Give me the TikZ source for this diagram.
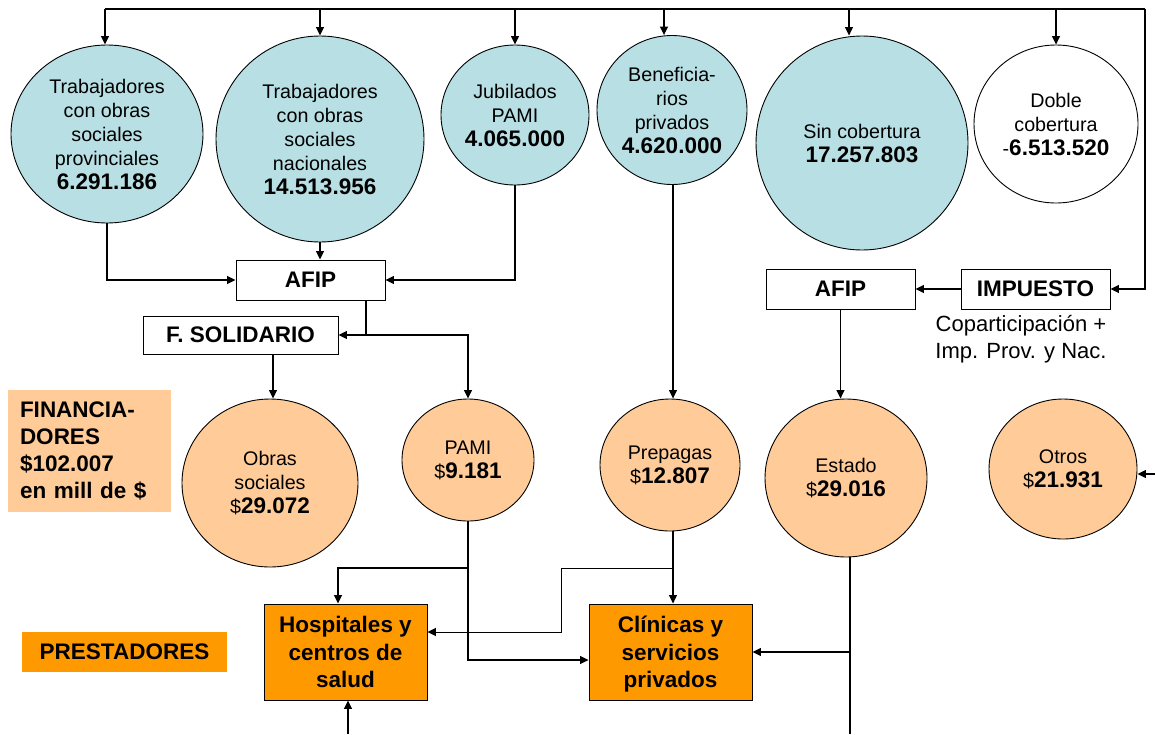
\documentclass[tikz,border=0pt]{standalone}
\usepackage{fontspec}
\setmainfont{Liberation Sans}
\usetikzlibrary{shapes.geometric,arrows.meta,calc}
\definecolor{cblue}{RGB}{184,224,228}
\definecolor{lorange}{RGB}{255,204,153}
\definecolor{dorange}{RGB}{255,153,0}
\newcommand\nf{\fontsize{19.7}{24}\selectfont}
\newcommand\bn{\fontsize{22.5}{25}\selectfont\bfseries}
\tikzset{
  bub/.style={ellipse,draw=black,line width=0.9pt,inner sep=0pt,align=center,font=\nf},
  bluebub/.style={bub,fill=cblue},
  orbub/.style={bub,fill=lorange},
  wbox/.style={rectangle,draw=black,line width=0.9pt,fill=white,inner sep=0pt,
     minimum width=149pt,minimum height=40pt,font=\bn},
  obox/.style={rectangle,draw=black,line width=0.9pt,fill=dorange,inner sep=0pt,
     minimum width=163pt,minimum height=96pt,align=center,
     font=\fontsize{22.5}{27.5}\selectfont\bfseries},
  arr/.style={line width=1.3pt,-{Triangle[length=8.5pt,width=8pt]}},
  ln/.style={line width=1.3pt},
}
\begin{document}
\begin{tikzpicture}[x=1pt,y=-1pt]
\useasboundingbox (0,0) rectangle (1155,734);
% top row
\node[bluebub,minimum width=192pt,minimum height=178pt] (c1) at (107,134)
  {Trabajadores\\con obras\\sociales\\provinciales\\{\bn 6.291.186}};
\node[bluebub,minimum width=208pt,minimum height=206pt] (c2) at (320,139)
  {Trabajadores\\con obras\\sociales\\nacionales\\{\bn 14.513.956}};
\node[bluebub,minimum width=148pt,minimum height=140pt] (c3) at (515,115)
  {Jubilados\\PAMI\\{\bn 4.065.000}};
\node[bluebub,minimum width=150pt,minimum height=149pt] (c4) at (672,110)
  {Beneficia-\\rios\\privados\\{\bn 4.620.000}};
\node[bluebub,minimum width=212pt,minimum height=214pt] (c5) at (862,143)
  {Sin cobertura\\{\bn 17.257.803}};
\node[bub,fill=white,minimum width=164pt,minimum height=158pt] (c6) at (1056,124)
  {Doble\\cobertura\\-{\bn 6.513.520}};
% boxes
\node[wbox] (afip1) at (310.5,280) {AFIP};
\node[wbox,minimum width=195pt,minimum height=38pt] (fsol) at (240.5,335) {F. SOLIDARIO};
\node[wbox] (afip2) at (840.5,289) {AFIP};
\node[wbox] (imp) at (1035.5,289) {IMPUESTO};
\node[align=center,font=\fontsize{22}{27}\selectfont,inner sep=0pt] (copa) at (1021,339)
  {Coparticipación +\\Imp. Prov. y Nac.};
% bottom circles
\node[orbub,minimum width=176pt,minimum height=168pt] (d1) at (270,483)
  {Obras\\sociales\\\$\mbox{\bn 29.072}};
\node[orbub,minimum width=132pt,minimum height=122pt] (d2) at (468,460)
  {PAMI\\\$\mbox{\bn 9.181}};
\node[orbub,minimum width=140pt,minimum height=132pt] (d3) at (670,465)
  {Prepagas\\\$\mbox{\bn 12.807}};
\node[orbub,minimum width=162pt,minimum height=158pt] (d4) at (846,478)
  {Estado\\\$\mbox{\bn 29.016}};
\node[orbub,minimum width=148pt,minimum height=140pt] (d5) at (1063,469)
  {Otros\\\$\mbox{\bn 21.931}};
% labels
\node[rectangle,fill=lorange,inner xsep=12pt,inner ysep=0pt,text width=139pt,
  minimum height=122pt,align=left,font=\fontsize{22.5}{27}\selectfont\bfseries]
  (fin) at (89.5,451) {FINANCIA-\\DORES\\\$102.007\\en mill de \$};
\node[rectangle,fill=dorange,inner sep=0pt,minimum width=205pt,minimum height=40pt,
  font=\bn] (prest) at (124.5,652) {PRESTADORES};
\node[obox] (hosp) at (345.5,652) {Hospitales y\\centros de\\salud};
\node[obox] (clin) at (670.5,652) {Cl\smash{í}nicas y\\servicios\\\raisebox{0pt}[\height][0pt]{privados}};
% top distribution line
\coordinate (t0) at (105,9);
\coordinate (tR) at (1145,9);
\draw[ln] (t0) -- (tR);
\draw[arr] (t0) -- (t0 |- c1.north);
\draw[arr] (c2.north |- t0) -- (c2.north);
\draw[arr] (c3.north |- t0) -- (c3.north);
\coordinate (t4) at (664,9);
\draw[arr] (t4) -- (t4 |- c4.north);
\coordinate (t5) at (849,9);
\draw[arr] (t5) -- (t5 |- c5.north);
\draw[arr] (c6.north |- t0) -- (c6.north);
\draw[arr] (tR) |- (imp.east);
% to AFIP
\draw[arr] (c1.south) |- (afip1.west);
\draw[arr] (c2.south) -- (c2.south |- afip1.north);
\draw[arr] (c3.south) |- (afip1.east);
\coordinate (j1) at (366,335);
\draw[ln] (afip1.south -| j1) -- (j1);
\draw[arr] (j1) -- (fsol.east);
\draw[arr] (j1) -| (d2.north);
\coordinate (f1) at (273,354);
\draw[arr] (f1) -- (f1 |- d1.north);
\coordinate (p4) at (673,0);
\draw[arr] (p4 |- c4.south) -- (p4 |- d3.north);
\draw[arr] (imp.west) -- (afip2.east);
\draw[arr] (afip2.south) -- (afip2.south |- d4.north);
\coordinate (oR) at (1155,474);
\draw[arr] (oR) -- (oR -| d5.east);
% bottom connections
\draw[arr] (d2.south) |- ([yshift=-8pt]clin.west);
\coordinate (b1) at (468,568);
\draw[arr] (b1) -| ([xshift=-7.5pt]hosp.north);
\draw[arr] (p4 |- d3.south) -- (p4 |- clin.north);
\coordinate (b2) at (673,568);
\coordinate (b2m) at (561,568);
\draw[line width=1pt,-{Triangle[length=8.5pt,width=8pt]}] (b2) -- (b2m) |- ([yshift=20pt]hosp.east);
\coordinate (eB) at (850,734);
\draw[ln] (eB |- d4.south) -- (eB);
\coordinate (e1) at (eB |- clin.east);
\draw[arr] (e1) -- (clin.east);
\coordinate (hB) at (348,734);
\draw[arr] (hB) -- (hB |- hosp.south);
\end{tikzpicture}
\end{document}
